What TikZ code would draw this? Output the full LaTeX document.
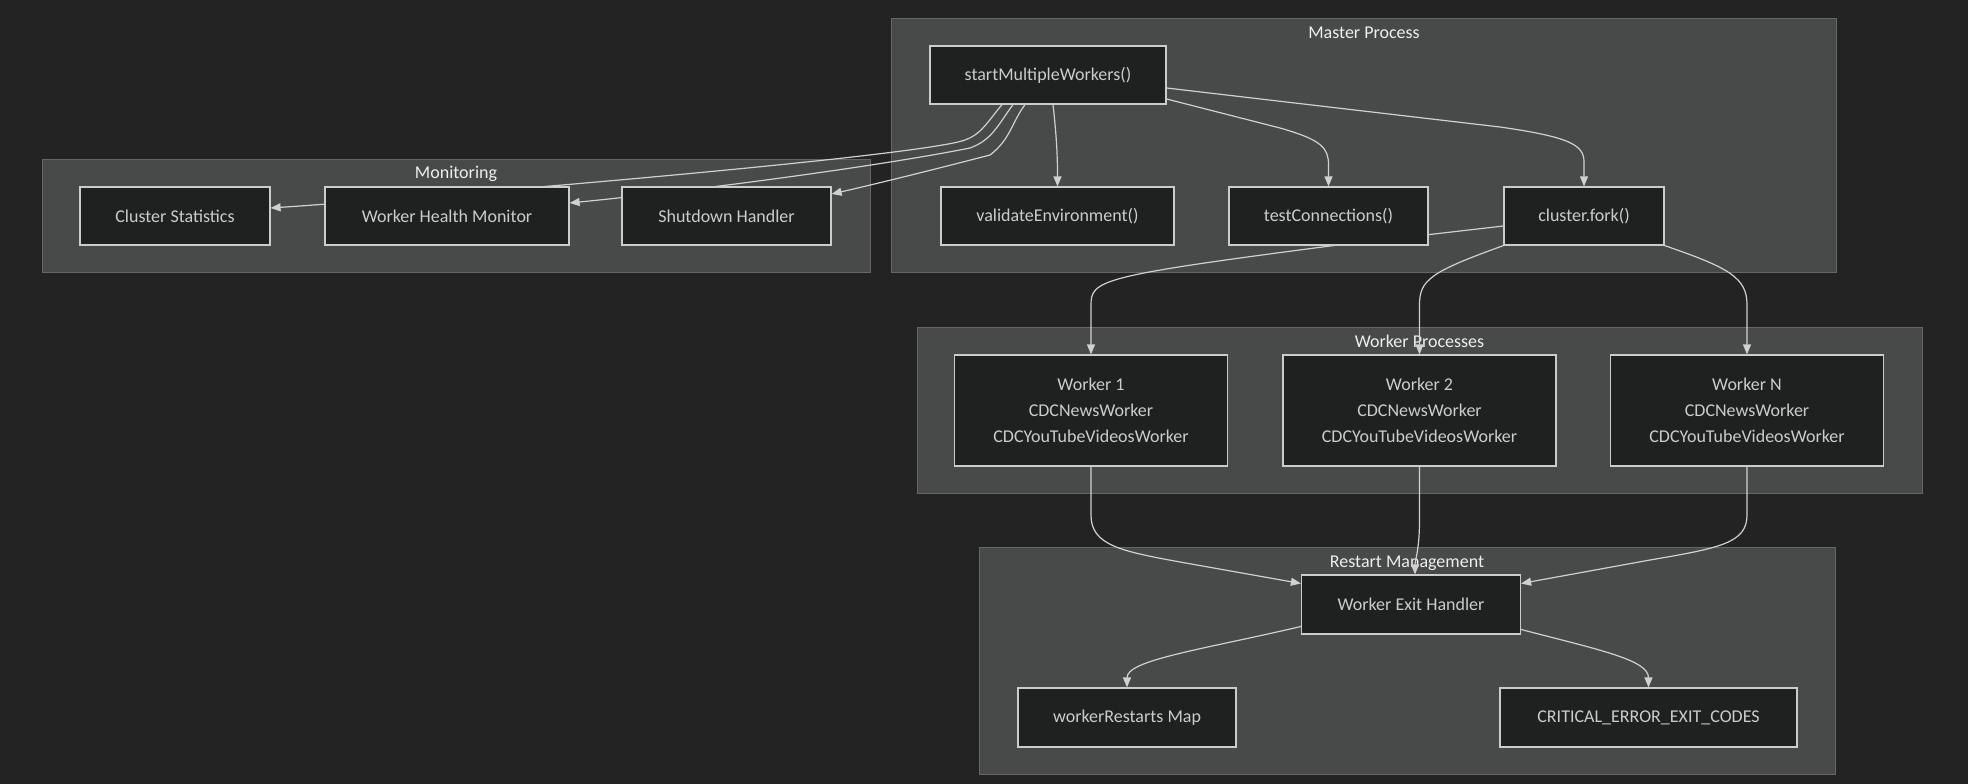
\documentclass[tikz,border=0pt]{standalone}
\usepackage{fontspec}
\setmainfont{Carlito}
\usetikzlibrary{arrows.meta,calc}
\definecolor{bgc}{HTML}{232323}
\definecolor{clfill}{HTML}{484A49}
\definecolor{cldraw}{HTML}{666666}
\definecolor{ndfill}{HTML}{1F2020}
\definecolor{nddraw}{HTML}{CCCCCC}
\definecolor{txt}{HTML}{CCCCCC}
\definecolor{ttl}{HTML}{EEEEEE}
\definecolor{edgec}{HTML}{D0D0D0}
\pgfdeclarelayer{bg}
\pgfdeclarelayer{edges}
\pgfsetlayers{bg,edges,main}
\begin{document}
\begin{tikzpicture}[x=1pt,y=-1pt,
  box/.style={draw=nddraw, fill=ndfill, line width=1.2pt, text=txt,
    font=\fontsize{18}{26}\selectfont, align=center, inner sep=0pt},
  clus/.style={draw=cldraw, fill=clfill, line width=1pt},
  ttlst/.style={text=ttl, font=\fontsize{18}{22}\selectfont, inner sep=0pt},
  conn/.style={draw=edgec, line width=1.2pt, -{Triangle[length=10pt,width=8pt]}}]

% nodes
\node[box, minimum width=236pt, minimum height=58pt] (start) at (1048,75) {startMultipleWorkers()};
\node[box, minimum width=233pt, minimum height=58pt] (validate) at (1057.5,216) {validateEnvironment()};
\node[box, minimum width=199pt, minimum height=58pt] (testconn) at (1328.5,216) {testConnections()};
\node[box, minimum width=160pt, minimum height=58pt] (fork) at (1584,216) {cluster.fork()};
\node[box, minimum width=190pt, minimum height=58pt] (cs) at (175,216) {Cluster Statistics};
\node[box, minimum width=244pt, minimum height=58pt] (whm) at (447,216) {Worker Health Monitor};
\node[box, minimum width=209pt, minimum height=58pt] (shut) at (726.5,216) {Shutdown Handler};
\node[box, minimum width=273pt, minimum height=111pt] (w1) at (1091,410.5) {Worker 1\\CDCNewsWorker\\CDCYouTubeVideosWorker};
\node[box, minimum width=273pt, minimum height=111pt] (w2) at (1419.5,410.5) {Worker 2\\CDCNewsWorker\\CDCYouTubeVideosWorker};
\node[box, minimum width=273pt, minimum height=111pt] (wn) at (1747,410.5) {Worker N\\CDCNewsWorker\\CDCYouTubeVideosWorker};
\node[box, minimum width=219pt, minimum height=59pt] (exit) at (1411,604.5) {Worker Exit Handler};
\node[box, minimum width=218pt, minimum height=59pt] (map) at (1127,717.5) {workerRestarts Map};
\node[box, minimum width=297pt, minimum height=59pt] (crit) at (1648.5,717.5) {CRITICAL\_ERROR\_EXIT\_CODES};

% clusters
\begin{pgfonlayer}{bg}
\fill[bgc] (0,0) rectangle (1968,784);
\useasboundingbox (0,0) rectangle (1968,784);
\draw[clus] (891,19) rectangle (1836,272);
\draw[clus] (42,159) rectangle (870,272);
\draw[clus] (917,327) rectangle (1922,493);
\draw[clus] (979.5,547) rectangle (1835,774);
\node[ttlst] (tmaster) at (1364,33) {Master Process};
\node[ttlst] (tmon) at (456,174) {Monitoring};
\node[ttlst] (twork) at (1419.5,341) {Worker Processes};
\node[ttlst] (trest) at (1407,563) {Restart Management};
\end{pgfonlayer}

% edges
\begin{pgfonlayer}{edges}
\draw[conn] ($(start.south)+(5,0)$) .. controls (1057,140) and (1057.5,160) .. (validate.north);
\draw[conn] ($(start.east)+(0,24)$) -- (1280,128) .. controls (1322,140) and (1328.5,148) .. (1328.5,165) -- (testconn.north);
\draw[conn] ($(start.east)+(0,13)$) -- (1500,127) .. controls (1570,137) and (1584,145) .. (1584,162) -- (fork.north);
\draw[conn] ($(start.south)+(-46,0)$) .. controls (985,125) and (980,137) .. (958,142) .. controls (880,160) and (420,198) .. ($(cs.east)+(0,-8)$);
\draw[conn] ($(start.south)+(-35,0)$) .. controls (998,125) and (992,140) .. (970,148) .. controls (880,166) and (700,190) .. ($(whm.east)+(0,-13)$);
\draw[conn] ($(start.south)+(-23,0)$) .. controls (1012,122) and (1010,140) .. (990,155) .. controls (940,168) and (880,183) .. ($(shut.east)+(0,-22)$);
\draw[conn] ($(fork.west)+(0,10)$) -- (1330,246) .. controls (1100,276) and (1091,280) .. (1091,305) -- (w1.north);
\draw[conn] (fork.south west) .. controls (1430,272) and (1419.5,280) .. (1419.5,305) -- (w2.north);
\draw[conn] (fork.south east) .. controls (1730,268) and (1747,278) .. (1747,305) -- (wn.north);
\draw[conn] (w1.south) -- (1091,515) .. controls (1091,545) and (1120,551) .. (1180,562) -- ($(exit.west)+(0,-21)$);
\draw[conn] (w2.south) -- (1419.5,520) .. controls (1419.5,550) and (1415,560) .. ($(exit.north)+(4,0)$);
\draw[conn] (wn.south) -- (1747,515) .. controls (1747,543) and (1720,548) .. (1650,560) -- ($(exit.east)+(0,-21)$);
\draw[conn] ($(exit.west)+(0,22)$) .. controls (1200,650) and (1127,660) .. (map.north);
\draw[conn] ($(exit.east)+(0,25)$) .. controls (1600,650) and (1648.5,660) .. (crit.north);
\end{pgfonlayer}
\end{tikzpicture}
\end{document}
